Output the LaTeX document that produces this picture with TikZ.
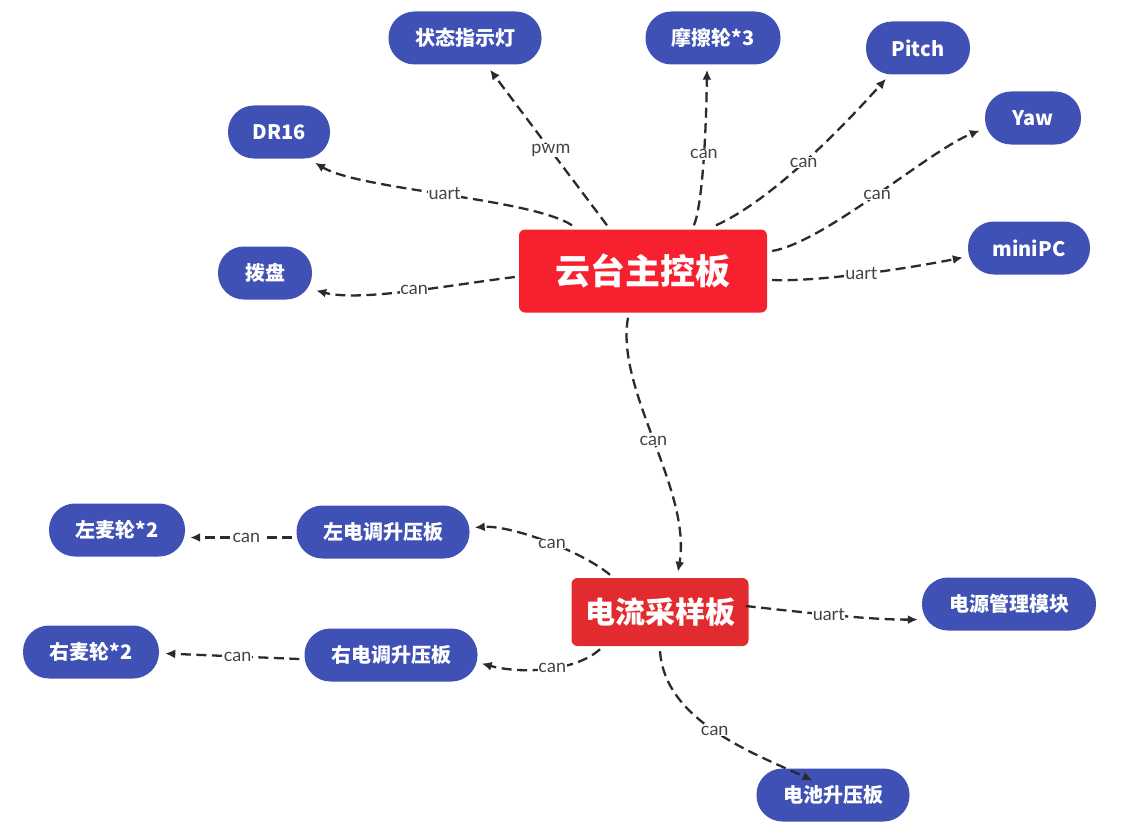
\documentclass[tikz,border=0pt]{standalone}
\usepackage{fontspec}
\setmainfont{Lato}
\newfontfamily\cjk{Noto Sans CJK SC}
\usetikzlibrary{calc,arrows.meta}
\definecolor{nodeblue}{HTML}{3F51B5}
\definecolor{mainred}{HTML}{F7202F}
\definecolor{subred}{HTML}{E22B2E}
\definecolor{linegray}{HTML}{2B2B2B}
\definecolor{lblgray}{HTML}{444444}
\begin{document}
\begin{tikzpicture}[x=1pt,y=-1pt,
  pill/.style={fill=nodeblue, rounded corners=26pt, text=white,
    font=\cjk\bfseries\fontsize{20}{20}\selectfont, minimum height=53pt, inner sep=0pt},
  bigbox/.style={rounded corners=6pt, text=white, inner sep=0pt},
  conn/.style={draw=linegray, line width=2.3pt, dash pattern=on 10pt off 5.5pt,
    -{Latex[length=10pt,width=9pt]}},
  lbl/.style={fill=white, text=lblgray, inner sep=0.5pt, font=\fontsize{18}{18}\selectfont}
]
\useasboundingbox (0,0) rectangle (1137,840);
\fill[white] (0,0) rectangle (1137,840);

% central boxes
\node[bigbox, fill=mainred, minimum width=248pt, minimum height=83pt,
  font=\cjk\bfseries\fontsize{35}{35}\selectfont] (main) at (643,271) {云台主控板};
\node[bigbox, fill=subred, minimum width=177pt, minimum height=68pt,
  font=\cjk\bfseries\fontsize{30}{30}\selectfont] (cur) at (660,612) {电流采样板};

% peripheral nodes
\node[pill, minimum width=153pt] (s) at (465,38) {状态指示灯};
\node[pill, minimum width=135pt] (f) at (713,38) {摩擦轮*3};
\node[pill, minimum width=104pt] (p) at (918,48) {Pitch};
\node[pill, minimum width=96pt] (yw) at (1033,118) {Yaw};
\node[pill, minimum width=102pt] (d) at (279,132) {DR16};
\node[pill, minimum width=122pt] (m) at (1029,248) {miniPC};
\node[pill, minimum width=94pt] (b) at (265,273) {拨盘};
\node[pill, minimum width=136pt] (lm) at (117,530) {左麦轮*2};
\node[pill, minimum width=173pt] (le) at (383,532) {左电调升压板};
\node[pill, minimum width=136pt] (rm) at (91,652) {右麦轮*2};
\node[pill, minimum width=173pt] (re) at (391,655) {右电调升压板};
\node[pill, minimum width=174pt] (pm) at (1009,604) {电源管理模块};
\node[pill, minimum width=153pt] (bat) at (833,795) {电池升压板};

% connectors from main
\draw[conn] ($(main.north)+(-36,-4)$) -- ($(s.south)+(25,5)$)
  node[lbl, pos=0.48] {pwm};
\draw[conn] ($(main.north)+(51,-4)$) .. controls (702,205) and (706,140) .. ($(f.south)+(-6,5)$)
  node[lbl, pos=0.57] {can};
\draw[conn] ($(main.north)+(73,-4)$) .. controls (772,200) and (842,128) .. ($(p.south)+(-32,4)$)
  node[lbl, pos=0.49] {can};
\draw[conn] ($(main.east)+(5,-20)$) .. controls (825,242) and (930,150) .. ($(yw.west)+(-5,12.5)$)
  node[lbl, pos=0.5] {can};
\draw[conn] ($(main.east)+(5,9)$) .. controls (820,282) and (910,268) .. ($(m.west)+(-5,9.5)$)
  node[lbl, pos=0.48] {uart};
\draw[conn] ($(main.north)+(-71,-4)$) .. controls (530,198) and (360,190) .. ($(d.south)+(36,4)$)
  node[lbl, pos=0.5] {uart};
\draw[conn] ($(main.west)+(-4,6)$) .. controls (450,285) and (360,302) .. ($(b.east)+(4,17.5)$)
  node[lbl, pos=0.47] {can};
\draw[conn] ($(main.south)+(-15,5)$) .. controls (615,390) and (692,490) .. ($(cur.north)+(18,-6)$)
  node[lbl, pos=0.5] {can};

% connectors from cur
\draw[conn] ($(cur.north)+(-50,-3)$) .. controls (580,550) and (510,525) .. ($(le.east)+(5,-4.5)$)
  node[lbl, pos=0.45] {can};
\draw[conn] ($(le.west)+(-4,5.5)$) -- ($(lm.east)+(5,7.5)$)
  node[lbl, pos=0.45] {can};
\draw[conn] ($(cur.south)+(-60,3)$) .. controls (575,672) and (520,674) .. ($(re.east)+(4,8.5)$)
  node[lbl, pos=0.45] {can};
\draw[conn] ($(re.west)+(-5,4)$) -- ($(rm.east)+(6,1.5)$)
  node[lbl, pos=0.46] {can};
\draw[conn] ($(cur.east)+(-3,-6)$) .. controls (800,612) and (870,620) .. ($(pm.west)+(-4,15.5)$)
  node[lbl, pos=0.47] {uart};
\draw[conn] ($(cur.south)+(0,5)$) .. controls (665,720) and (750,752) .. ($(bat.north)+(-20.5,12)$)
  node[lbl, pos=0.5] {can};
\end{tikzpicture}
\end{document}
